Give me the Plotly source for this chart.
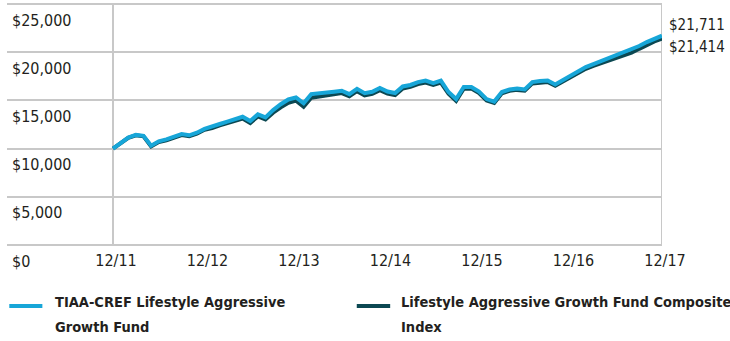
import plotly.graph_objects as go

# Growth of a $10,000 investment, month-end values 12/11 .. 12/17
months = list(range(73))
fund = [
    10000, 10600, 11150, 11420, 11330, 10300, 10750, 10950, 11200, 11500, 11380, 11650,
    12050, 12250, 12550, 12800, 13050, 13300, 12860, 13550, 13240, 14000, 14600, 15100,
    15300, 14700, 15650, 15700, 15780, 15900, 16000, 15650, 16200, 15750, 15900, 16300,
    15920, 15760, 16450, 16600, 16900, 17050, 16800, 17050, 15870, 15140, 16390, 16390,
    15920, 15140, 14880, 15870, 16130, 16230, 16130, 16900, 17010, 17060, 16640, 17110,
    17470, 17940, 18460, 18770, 19080, 19340, 19700, 20010, 20220, 20640, 21050, 21410, 21711,
]
index = [
    10000, 10570, 11110, 11370, 11270, 10240, 10680, 10870, 11110, 11410, 11280, 11550,
    11950, 12120, 12410, 12640, 12880, 13120, 12660, 13340, 13020, 13720, 14280, 14750,
    14980, 14350, 15280, 15400, 15520, 15660, 15760, 15420, 15960, 15520, 15680, 16070,
    15700, 15550, 16240, 16400, 16700, 16850, 16600, 16850, 15690, 14960, 16220, 16220,
    15760, 14990, 14740, 15730, 15990, 16090, 16000, 16760, 16870, 16920, 16510, 16970,
    17330, 17780, 18280, 18580, 18870, 19110, 19450, 19740, 19940, 20350, 20760, 21110, 21414,
]
series_names = [["TIAA-CREF Lifestyle Aggressive", "Growth Fund"],
                ["Lifestyle Aggressive Growth Fund Composite", "Index"]]
x_tick_vals = [0, 12, 24, 36, 48, 60, 72]
x_tick_text = ["12/11", "12/12", "12/13", "12/14", "12/15", "12/16", "12/17"]
y_tick_vals = [0, 5000, 10000, 15000, 20000, 25000]
y_tick_text = ["$0", "$5,000", "$10,000", "$15,000", "$20,000", "$25,000"]

FUND_COLOR = "#17a6d8"
INDEX_COLOR = "#0c4852"
GRID = "#c8c8c8"
TEXT = "#231f20"
FONT = "DejaVu Sans Condensed, DejaVu Sans, sans-serif"

fig = go.Figure()
fig.add_trace(go.Scatter(x=months, y=index, mode="lines",
                         line=dict(color=INDEX_COLOR, width=4), showlegend=False))
fig.add_trace(go.Scatter(x=months, y=fund, mode="lines",
                         line=dict(color=FUND_COLOR, width=4), showlegend=False))

# vertical frame lines at the first and last period
for xv in (months[0], months[-1]):
    fig.add_shape(type="line", xref="x", yref="paper", x0=xv, x1=xv,
                  y0=0, y1=1, line=dict(color=GRID, width=2), layer="below")
# top rule at the axis maximum (paper-referenced so it is not clipped)
fig.add_shape(type="line", xref="paper", yref="paper", x0=0, x1=1,
              y0=1, y1=1, line=dict(color=GRID, width=2), layer="below")

# ending values
fig.add_annotation(x=months[-1], y=fund[-1], xref="x", yref="y",
                   text=f"${fund[-1]:,}", showarrow=False, xanchor="left",
                   xshift=5, yshift=11, font=dict(size=15, color=TEXT, family=FONT))
fig.add_annotation(x=months[-1], y=index[-1], xref="x", yref="y",
                   text=f"${index[-1]:,}", showarrow=False, xanchor="left",
                   xshift=5, yshift=-8, font=dict(size=15, color=TEXT, family=FONT))

# legend: colored swatch + bold two-line label
legend_items = [(FUND_COLOR, series_names[0], 0.0035, 0.054, 0.0702),
                (INDEX_COLOR, series_names[1], 0.534, 0.585, 0.598)]
for color, lines, sx0, sx1, tx in legend_items:
    fig.add_shape(type="line", xref="paper", yref="paper", x0=sx0, x1=sx1,
                  y0=-0.253, y1=-0.253, line=dict(color=color, width=4))
    for ty, line_text in zip((-0.2365, -0.340), lines):
        fig.add_annotation(x=tx, y=ty, xref="paper", yref="paper",
                           text=f"<b>{line_text}</b>", showarrow=False,
                           xanchor="left", yanchor="middle", align="left",
                           font=dict(size=14.5, color=TEXT, family=FONT))

fig.update_layout(
    width=730, height=341,
    margin=dict(l=7, r=68, t=4, b=96, autoexpand=False),
    paper_bgcolor="white", plot_bgcolor="white",
    font=dict(family=FONT, size=16, color=TEXT),
    xaxis=dict(range=[-13.9, 72], tickvals=x_tick_vals, ticktext=x_tick_text,
               showgrid=False, zeroline=False, showline=False, ticks="",
               automargin=False, ticklabelshift=3, ticklabelstandoff=4,
               tickfont=dict(size=16, color=TEXT, family=FONT)),
    yaxis=dict(range=[0, 25000], tickvals=y_tick_vals, ticktext=y_tick_text,
               showgrid=True, gridcolor=GRID, gridwidth=2,
               zeroline=True, zerolinecolor=GRID, zerolinewidth=2,
               showline=False, ticks="", automargin=False,
               ticklabelposition="inside", ticklabelshift=16,
               ticklabeloverflow="allow", ticklabelstandoff=2,
               tickfont=dict(size=16, color=TEXT, family=FONT)),
)

fig.write_html("out.html")
